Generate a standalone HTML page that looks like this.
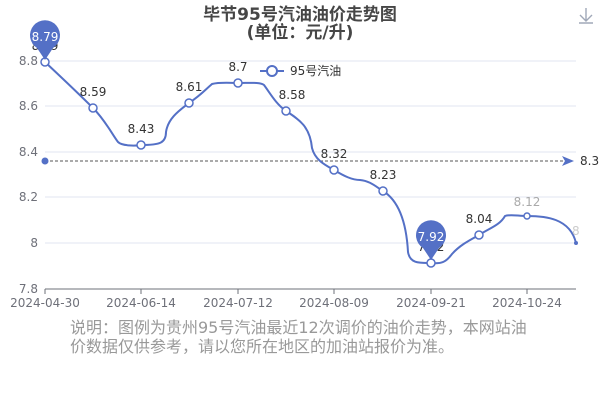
<!DOCTYPE html>
<html><head><meta charset="utf-8"><style>
body{margin:0;background:#fff;width:600px;height:400px;overflow:hidden;font-family:"DejaVu Sans","Noto Sans CJK SC",sans-serif}
</style></head><body>
<svg width="600" height="400" xmlns="http://www.w3.org/2000/svg" font-family="DejaVu Sans, Noto Sans CJK SC, sans-serif">
<text x="300" y="20" text-anchor="middle" font-size="17" font-weight="bold" fill="#464646">毕节95号汽油油价走势图</text>
<text x="300" y="38" text-anchor="middle" font-size="17" font-weight="bold" fill="#464646">(单位：元/升)</text>
<g stroke="#a0a8b8" fill="none" stroke-width="1.4"><path d="M586 8v12M580 15l6 6 6-6M579 23h14"/></g>
<g stroke="#e0e6f1" stroke-width="1">
<line x1="45" y1="61" x2="576" y2="61"/><line x1="45" y1="106" x2="576" y2="106"/><line x1="45" y1="152" x2="576" y2="152"/><line x1="45" y1="197" x2="576" y2="197"/><line x1="45" y1="243" x2="576" y2="243"/></g>
<line x1="45" y1="289" x2="576" y2="289" stroke="#6e7079"/>
<g stroke="#6e7079"><line x1="45" y1="289" x2="45" y2="294"/><line x1="141" y1="289" x2="141" y2="294"/><line x1="238" y1="289" x2="238" y2="294"/><line x1="334" y1="289" x2="334" y2="294"/><line x1="431" y1="289" x2="431" y2="294"/><line x1="527" y1="289" x2="527" y2="294"/></g>
<g font-size="12" fill="#6e7079" text-anchor="end">
<text x="38" y="65">8.8</text><text x="38" y="110">8.6</text><text x="38" y="156">8.4</text><text x="38" y="201">8.2</text><text x="38" y="247">8</text><text x="38" y="293">7.8</text></g>
<g font-size="12" fill="#6e7079" text-anchor="middle">
<text x="45" y="307">2024-04-30</text><text x="141" y="307">2024-06-14</text><text x="238" y="307">2024-07-12</text><text x="334" y="307">2024-08-09</text><text x="431" y="307">2024-09-21</text><text x="527" y="307">2024-10-24</text></g>
<line x1="45" y1="161" x2="566" y2="161" stroke="#555" stroke-dasharray="3,2"/>
<circle cx="45" cy="161" r="3.5" fill="#5470c6"/>
<path d="M562 156l12 5-12 5 3-5z" fill="#5470c6"/>
<text x="580" y="165" font-size="12" fill="#333">8.3</text>
<path d="M45 62C61 77 77 92 93 108C105 120 112 134 118 142C122 146 135 146 141 145C160 145 166 143 166 132C168 118 180 110 189 103C201 95 205 90 212 84C220 82 230 83 238 83C250 83 260 82 264 85C270 93 276 104 286 111C300 120 310 127 312 148C315 160 325 165 334 170C344 176 352 180 360 180C370 181 375 186 383 191C396 199 406 216 408 252C410 264 420 263 431 263C442 264 446 262 452 254C460 245 470 240 479 235C490 228 500 225 505 216C510 214 518 216 527 216C545 216 570 218 576 243" fill="none" stroke="#5470c6" stroke-width="2"/>
<g fill="#fff" stroke="#5470c6" stroke-width="1.5">
<circle cx="45" cy="62" r="4"/><circle cx="93" cy="108" r="4"/><circle cx="141" cy="145" r="4"/><circle cx="189" cy="103" r="4"/><circle cx="238" cy="83" r="4"/><circle cx="286" cy="111" r="4"/><circle cx="334" cy="170" r="4"/><circle cx="383" cy="191" r="4"/><circle cx="431" cy="263" r="4"/><circle cx="479" cy="235" r="4"/><circle cx="527" cy="216" r="3"/></g>
<circle cx="576" cy="243" r="2" fill="#5470c6"/>
<g font-size="12" fill="#333" text-anchor="middle">
<text x="45" y="50">8.79</text><text x="93" y="96">8.59</text><text x="141" y="133">8.43</text><text x="189" y="91">8.61</text><text x="238" y="71">8.7</text><text x="292" y="99">8.58</text><text x="334" y="158">8.32</text><text x="383" y="179">8.23</text><text x="431" y="251">7.92</text><text x="479" y="223">8.04</text></g>
<text x="527" y="206" font-size="12" fill="#aaa" text-anchor="middle">8.12</text>
<text x="572" y="235" font-size="12" fill="#ccc">8</text>
<path d="M45 60L37 48A15 15 0 1 1 53 48Z" fill="#5470c6"/>
<text x="45" y="41" font-size="12" fill="#fff" text-anchor="middle">8.79</text>
<path d="M431 260L423 248A15 15 0 1 1 439 248Z" fill="#5470c6"/>
<text x="431" y="241" font-size="12" fill="#fff" text-anchor="middle">7.92</text>
<line x1="260" y1="71" x2="284" y2="71" stroke="#5470c6" stroke-width="2"/>
<circle cx="272" cy="71" r="5" fill="#fff" stroke="#5470c6" stroke-width="2"/>
<text x="290" y="75" font-size="12" fill="#333">95号汽油</text>
<text x="70" y="333" font-size="16" fill="#999">说明：图例为贵州95号汽油最近12次调价的油价走势，本网站油</text>
<text x="70" y="352" font-size="16" fill="#999">价数据仅供参考，请以您所在地区的加油站报价为准。</text>
</svg>
</body></html>
